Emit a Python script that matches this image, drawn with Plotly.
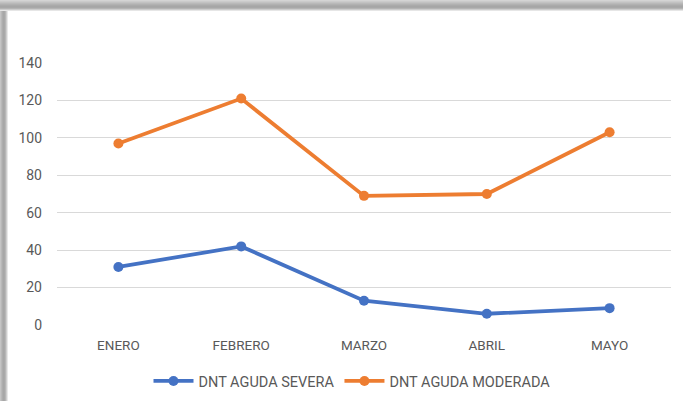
import plotly.graph_objects as go

months = ["ENERO", "FEBRERO", "MARZO", "ABRIL", "MAYO"]
severa = [31, 42, 13, 6, 9]
moderada = [97, 121, 69, 70, 103]
y_ticks = [0, 20, 40, 60, 80, 100, 120, 140]

W, H = 683, 401
L, R, T, B = 57, 12, 63, 76
pw, ph = W - L - R, H - T - B

def px_x(px):
    return (px - L) / pw

def px_y(py):
    return (H - B - py) / ph

fig = go.Figure()
fig.add_trace(go.Scatter(x=months, y=severa, name="DNT AGUDA SEVERA", mode="lines+markers",
                         line=dict(color="#4472C4", width=3.8), marker=dict(size=10, color="#4472C4")))
fig.add_trace(go.Scatter(x=months, y=moderada, name="DNT AGUDA MODERADA", mode="lines+markers",
                         line=dict(color="#ED7D31", width=3.8), marker=dict(size=10, color="#ED7D31")))

shapes = []
# shadow frame (top and left)
top_cols = ["#d4d4d4", "#cbcbcb", "#c2c2c2", "#b9b9b9", "#b1b1b1", "#aaaaaa", "#a6a6a6", "#a8a8a8", "#b4b4b4", "#cccccc", "#e6e6e6"]
for i, c in enumerate(top_cols):
    shapes.append(dict(type="rect", xref="paper", yref="paper", layer="below",
                       x0=px_x(0), x1=px_x(W), y0=px_y(i), y1=px_y(i + 1),
                       fillcolor=c, line=dict(width=0)))
left_cols = ["#c4c4c4", "#b8b8b8", "#adadad", "#a7a7a7", "#a9a9a9", "#b6b6b6", "#cecece", "#e8e8e8"]
for i, c in enumerate(left_cols):
    shapes.append(dict(type="rect", xref="paper", yref="paper", layer="below",
                       x0=px_x(i), x1=px_x(i + 1), y0=px_y(11), y1=px_y(H),
                       fillcolor=c, line=dict(width=0)))

fig.update_layout(
    width=W, height=H,
    margin=dict(l=L, r=R, t=T, b=B, autoexpand=False),
    paper_bgcolor="white", plot_bgcolor="white",
    font=dict(family="Roboto, sans-serif", size=13, color="#595959"),
    shapes=shapes,
    showlegend=True,
    legend=dict(orientation="h", x=px_x(352), xanchor="center", y=px_y(381), yanchor="middle",
                font=dict(size=14.5, color="#595959"), itemwidth=40),
    xaxis=dict(range=[-0.5, 4.5], showgrid=False, showline=False, zeroline=False,
               ticks="", tickfont=dict(size=13.5, color="#595959"), automargin=False,
               ticklabelstandoff=10),
    yaxis=dict(range=[0, 140], tickvals=y_ticks, showgrid=True, gridcolor="#d9d9d9",
               gridwidth=1, zeroline=False, showline=False, ticks="", ticklabelstandoff=14,
               tickfont=dict(size=14, color="#595959"), automargin=False),
)
fig.write_html("out.html", config={"displayModeBar": False},
               post_script="document.body.style.margin='0';document.body.style.overflow='hidden';")
